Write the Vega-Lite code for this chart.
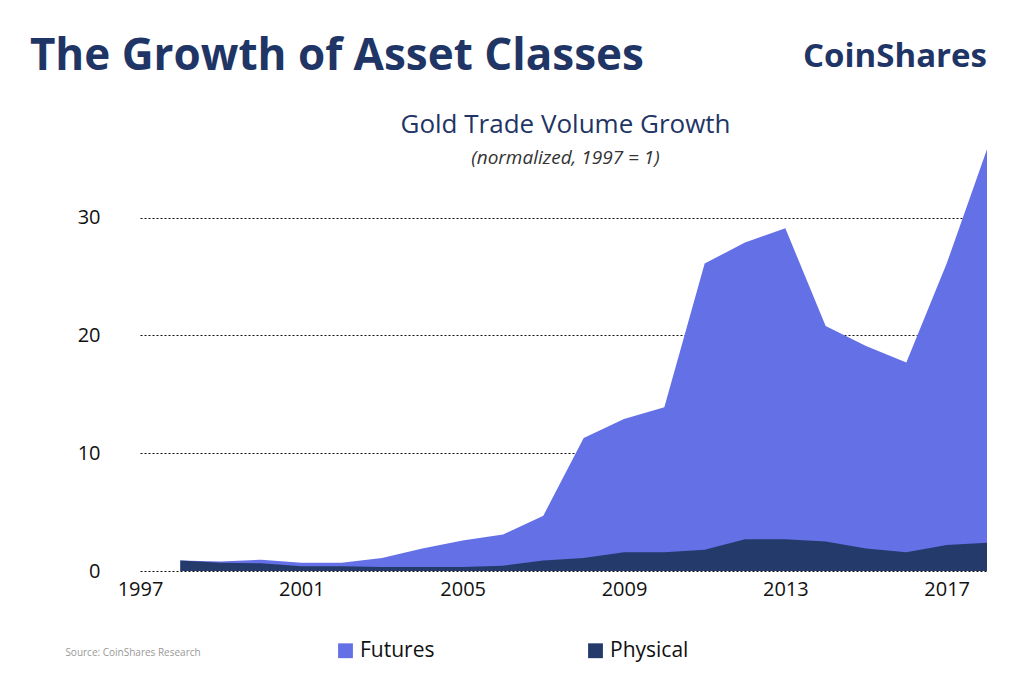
{
  "$schema": "https://vega.github.io/schema/vega-lite/v6.json",
  "background": "white",
  "autosize": "none",
  "padding": {"left": 140, "top": 147, "right": 37, "bottom": 103},
  "width": 847,
  "height": 424,
  "config": {"view": {"stroke": null}, "font": "Open Sans"},
  "data": {"values": [
    {"year": 1998, "series": "Futures", "value": 0.9}, {"year": 1999, "series": "Futures", "value": 0.8},
    {"year": 2000, "series": "Futures", "value": 0.95}, {"year": 2001, "series": "Futures", "value": 0.7},
    {"year": 2002, "series": "Futures", "value": 0.7}, {"year": 2003, "series": "Futures", "value": 1.1},
    {"year": 2004, "series": "Futures", "value": 1.9}, {"year": 2005, "series": "Futures", "value": 2.6},
    {"year": 2006, "series": "Futures", "value": 3.1}, {"year": 2007, "series": "Futures", "value": 4.7},
    {"year": 2008, "series": "Futures", "value": 11.3}, {"year": 2009, "series": "Futures", "value": 12.9},
    {"year": 2010, "series": "Futures", "value": 13.9}, {"year": 2011, "series": "Futures", "value": 26.1},
    {"year": 2012, "series": "Futures", "value": 27.9}, {"year": 2013, "series": "Futures", "value": 29.1},
    {"year": 2014, "series": "Futures", "value": 20.8}, {"year": 2015, "series": "Futures", "value": 19.1},
    {"year": 2016, "series": "Futures", "value": 17.7}, {"year": 2017, "series": "Futures", "value": 26.1},
    {"year": 2018, "series": "Futures", "value": 35.8},
    {"year": 1998, "series": "Physical", "value": 0.9}, {"year": 1999, "series": "Physical", "value": 0.7},
    {"year": 2000, "series": "Physical", "value": 0.65}, {"year": 2001, "series": "Physical", "value": 0.4},
    {"year": 2002, "series": "Physical", "value": 0.4}, {"year": 2003, "series": "Physical", "value": 0.35},
    {"year": 2004, "series": "Physical", "value": 0.35}, {"year": 2005, "series": "Physical", "value": 0.35},
    {"year": 2006, "series": "Physical", "value": 0.45}, {"year": 2007, "series": "Physical", "value": 0.9},
    {"year": 2008, "series": "Physical", "value": 1.1}, {"year": 2009, "series": "Physical", "value": 1.6},
    {"year": 2010, "series": "Physical", "value": 1.6}, {"year": 2011, "series": "Physical", "value": 1.8},
    {"year": 2012, "series": "Physical", "value": 2.7}, {"year": 2013, "series": "Physical", "value": 2.7},
    {"year": 2014, "series": "Physical", "value": 2.5}, {"year": 2015, "series": "Physical", "value": 1.9},
    {"year": 2016, "series": "Physical", "value": 1.6}, {"year": 2017, "series": "Physical", "value": 2.2},
    {"year": 2018, "series": "Physical", "value": 2.4}
  ]},
  "layer": [
    {
      "mark": {"type": "area", "interpolate": "linear"},
      "encoding": {
        "x": {"field": "year", "type": "quantitative", "scale": {"domain": [1997, 2018], "nice": false, "zero": false},
          "axis": {"values": [1997, 2001, 2005, 2009, 2013, 2017], "format": "d", "title": null, "grid": false, "domain": false, "ticks": false, "labelFontSize": 20, "labelColor": "#111", "labelPadding": 8, "labelFlush": false}},
        "y": {"field": "value", "type": "quantitative", "stack": null, "scale": {"domain": [0, 36], "nice": false},
          "axis": {"values": [0, 10, 20, 30], "title": null, "domain": false, "ticks": false, "grid": true, "gridDash": [2, 2], "gridColor": "#111", "gridWidth": 1, "labelFontSize": 20, "labelColor": "#111", "labelPadding": 40}},
        "color": {"field": "series", "type": "nominal", "scale": {"domain": ["Futures", "Physical"], "range": ["#6470e6", "#243a6b"]},
          "legend": {"orient": "none", "legendX": 195, "legendY": 493, "direction": "horizontal", "title": null, "symbolType": "square", "symbolSize": 220, "labelFontSize": 21, "labelColor": "#111", "columnPadding": 150, "labelLimit": 300, "symbolOpacity": 1}}
      }
    },
    {
      "data": {"values": [{"label": "The Growth of Asset Classes", "x": 1994.27, "y": 43.6}]},
      "mark": {"type": "text", "align": "left", "baseline": "middle", "fontSize": 44, "fontWeight": "bold", "color": "#1f3566", "clip": false},
      "encoding": {"x": {"field": "x", "type": "quantitative"}, "y": {"field": "y", "type": "quantitative"}, "text": {"field": "label"}}
    },
    {
      "data": {"values": [{"label": "CoinShares", "x": 2018, "y": 43.6}]},
      "mark": {"type": "text", "align": "right", "baseline": "middle", "fontSize": 33, "fontWeight": "bold", "color": "#1f3566", "clip": false},
      "encoding": {"x": {"field": "x", "type": "quantitative"}, "y": {"field": "y", "type": "quantitative"}, "text": {"field": "label"}}
    },
    {
      "data": {"values": [{"label": "Gold Trade Volume Growth", "x": 2007.55, "y": 37.9}]},
      "mark": {"type": "text", "align": "center", "baseline": "middle", "fontSize": 26, "color": "#1f3566", "clip": false},
      "encoding": {"x": {"field": "x", "type": "quantitative"}, "y": {"field": "y", "type": "quantitative"}, "text": {"field": "label"}}
    },
    {
      "data": {"values": [{"label": "(normalized, 1997 = 1)", "x": 2007.55, "y": 35.1}]},
      "mark": {"type": "text", "align": "center", "baseline": "middle", "fontSize": 19, "fontStyle": "italic", "color": "#333333", "clip": false},
      "encoding": {"x": {"field": "x", "type": "quantitative"}, "y": {"field": "y", "type": "quantitative"}, "text": {"field": "label"}}
    },
    {
      "data": {"values": [{"label": "Source: CoinShares Research", "x": 1995.15, "y": -7.0}]},
      "mark": {"type": "text", "align": "left", "baseline": "middle", "fontSize": 10, "color": "#999999", "clip": false},
      "encoding": {"x": {"field": "x", "type": "quantitative"}, "y": {"field": "y", "type": "quantitative"}, "text": {"field": "label"}}
    }
  ]
}
